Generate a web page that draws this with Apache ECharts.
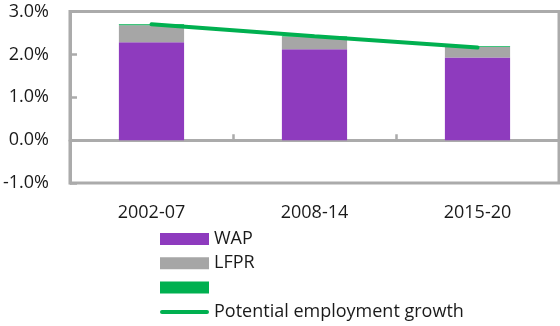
<!DOCTYPE html>
<html>
<head>
<meta charset="utf-8">
<script src="https://cdn.jsdelivr.net/npm/echarts@6/dist/echarts.min.js"></script>
<style>
  html, body { margin: 0; padding: 0; background: #fff; }
  #chart { width: 560px; height: 326px; }
</style>
</head>
<body>
<div id="chart"></div>
<script>
// Periods on the category axis
const periods = ['2002-07', '2008-14', '2015-20'];
// Contributions to potential employment growth (percentage points)
const wap = [2.28, 2.12, 1.93];
const lfpr = [0.40, 0.29, 0.24];
const otherPart = [0.02, 0.01, 0.02];
// Potential employment growth (%)
const potentialGrowth = [2.70, 2.42, 2.16];
// Value axis ticks
const yMin = -1, yMax = 3, yStep = 1;

const FONT = '"Open Sans", "Noto Sans", sans-serif';
const AXIS_GREY = '#ababab';
const TEXT = '#1a1a1a';
const GREEN = '#00b050';

const chart = echarts.init(document.getElementById('chart'), null, { renderer: 'canvas' });

chart.setOption({
  animation: false,
  textStyle: { fontFamily: FONT },
  grid: {
    left: 69, right: 1, top: 11.5, bottom: 143,
    show: true, borderColor: AXIS_GREY, borderWidth: 3, backgroundColor: 'transparent'
  },
  legend: {
    orient: 'vertical',
    left: 160,
    top: 230,
    padding: 0,
    itemWidth: 49,
    itemHeight: 12,
    itemGap: 6.3,
    symbolKeepAspect: true,
    textStyle: { fontFamily: FONT, fontSize: 18, lineHeight: 18, color: TEXT },
    data: [
      { name: 'WAP', icon: 'rect' },
      { name: 'LFPR', icon: 'rect' },
      { name: ' ', icon: 'rect' },
      {
        name: 'Potential employment growth',
        // thin rounded bar standing for the line
        icon: 'path://M2,0 L47,0 A2,2 0 0 1 47,4 L2,4 A2,2 0 0 1 2,0 Z'
      }
    ]
  },
  xAxis: [
    {
      // axis line through zero with ticks between periods
      type: 'category',
      data: periods,
      axisLine: { onZero: true, lineStyle: { color: AXIS_GREY, width: 3 } },
      axisTick: { show: true, inside: true, length: 6, lineStyle: { color: AXIS_GREY, width: 2.5 } },
      axisLabel: { show: false }
    },
    {
      // period labels under the plot
      type: 'category',
      data: periods,
      position: 'bottom',
      axisLine: { show: false, onZero: false },
      axisTick: { show: false },
      axisLabel: { fontFamily: FONT, fontSize: 18, color: TEXT, margin: 21 }
    }
  ],
  yAxis: {
    type: 'value',
    min: yMin, max: yMax, interval: yStep,
    axisLine: { show: true, lineStyle: { color: AXIS_GREY, width: 3 } },
    axisTick: { show: true, inside: true, length: 7, lineStyle: { color: AXIS_GREY, width: 2.5 } },
    splitLine: { show: false },
    axisLabel: {
      fontFamily: FONT, fontSize: 18, color: TEXT, margin: 21,
      formatter: v => v.toFixed(1) + '%'
    }
  },
  series: [
    {
      name: 'WAP', type: 'bar', stack: 'emp', barWidth: '40%',
      itemStyle: { color: '#8e3bbe' }, data: wap
    },
    {
      name: 'LFPR', type: 'bar', stack: 'emp',
      itemStyle: { color: '#a6a6a6' }, data: lfpr
    },
    {
      name: ' ', type: 'bar', stack: 'emp',
      itemStyle: { color: GREEN }, data: otherPart
    },
    {
      name: 'Potential employment growth', type: 'line',
      symbol: 'none', showSymbol: false, z: 5,
      lineStyle: { color: GREEN, width: 4, cap: 'round' },
      itemStyle: { color: GREEN },
      data: potentialGrowth
    }
  ]
});
</script>
</body>
</html>
